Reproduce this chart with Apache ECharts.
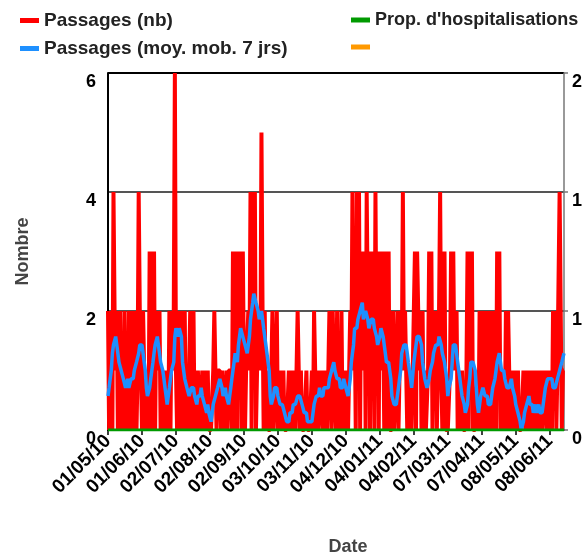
<!DOCTYPE html>
<html>
<head>
<meta charset="utf-8">
<script src="https://cdn.jsdelivr.net/npm/echarts/dist/echarts.min.js"></script>
<style>html,body{margin:0;padding:0;background:#fff;}#chart{width:584px;height:556px;}</style>
</head>
<body>
<div id="chart"></div>
<script>
// Series names
const S_RED = 'Passages (nb)';
const S_BLUE = 'Passages (moy. mob. 7 jrs)';
const S_GREEN = "Prop. d'hospitalisations";
const S_ORANGE = ' ';

// First day of the daily series (01/05/10)
const startDate = [2010, 5, 1];

// Tick labels shown on the date axis
const tickLabels = ['01/05/10','01/06/10','02/07/10','02/08/10','02/09/10','03/10/10','03/11/10',
  '04/12/10','04/01/11','04/02/11','07/03/11','07/04/11','08/05/11','08/06/11'];

// Daily emergency visits (count)
const passages = [
  2,0,2,1,0,4,2,1,2,0,1,
  2,0,1,0,2,0,1,
  0,2,0,1,2,0,1,
  2,0,1,4,2,1,0,
  2,1,0,0,1,0,
  3,0,3,0,3,0,2,
  2,1,2,0,1,0,1,
  0,0,1,0,
  2,0,2,1,2,
  6,
  1,0,2,1,0,2,
  1,0,2,0,1,0,0,2,0,1,2,
  0,1,0,1,1,0,0,1,0,1,0,0,1,0,0,0,0,1,
  2,1,0,1,1,
  1,0,1,1,0,0,1,0,1,1,
  1,0,3,0,3,1,0,3,2,3,0,3,1,0,1,
  1,2,1,
  4,0,4,2,4,0,1,
  1,2,1,5,2,0,
  2,0,1,0,0,0,1,
  2,0,0,1,2,0,0,
  1,0,0,1,0,0,0,0,1,0,1,0,0,1,0,1,
  2,
  1,0,1,0,0,0,0,1,0,0,0,0,1,0,
  2,
  1,0,1,0,0,1,1,0,1,0,1,0,1,
  2,1,0,2,1,
  1,0,2,0,1,0,2,
  0,1,0,1,1,0,0,
  2,1,
  4,1,2,0,4,1,4,0,3,
  2,1,3,0,4,2,3,0,3,1,3,0,
  4,1,3,
  0,3,1,3,2,0,3,1,0,3,0,
  0,0,2,0,0,1,
  2,0,1,2,1,
  4,1,2,
  1,0,1,0,1,0,0,
  2,3,0,3,2,
  1,2,0,2,0,1,0,
  0,1,3,2,3,0,
  2,1,2,0,1,2,
  4,
  1,0,2,3,0,0,0,
  0,1,
  3,2,3,1,
  1,2,0,1,0,0,1,0,0,0,1,
  3,0,3,1,3,0,0,
  0,0,1,0,
  2,0,2,1,
  0,2,1,0,2,0,
  1,2,0,2,1,0,
  3,1,3,0,
  1,0,1,0,
  2,0,2,
  1,0,1,1,0,1,0,0,1,0,
  0,0,0,1,
  1,0,1,1,0,1,0,1,0,0,1,0,0,1,0,1,0,0,1,1,0,1,1,0,1,0,
  2,1,2,0,1,
  1,4,4,0,1,1
];

// 7-day moving average
const passagesMM7 = [
  0.57,0.71,0.86,1.0,1.29,1.43,1.43,1.57,1.43,1.29,1.14,
  1.14,1.0,1.0,0.86,0.86,0.71,0.71,0.86,0.71,0.71,
  0.86,0.86,0.86,1.0,1.0,1.14,1.14,1.29,1.43,1.43,
  1.43,1.29,1.14,1.0,0.71,0.57,0.57,0.71,0.86,1.0,
  1.14,1.29,1.43,1.43,1.57,1.43,1.29,1.14,1.14,1.0,
  0.86,0.71,0.57,0.43,0.57,0.71,0.86,1.0,1.0,1.14,
  1.57,1.71,1.71,1.57,1.71,1.71,1.57,1.14,1.0,0.86,
  0.86,0.71,0.71,0.57,0.57,0.71,0.71,0.71,0.57,0.57,
  0.43,0.57,0.57,0.57,0.71,0.57,0.57,0.43,0.43,0.29,
  0.43,0.29,0.29,0.14,0.29,0.43,0.43,0.57,0.57,0.71,
  0.71,0.86,0.86,0.71,0.57,0.57,0.71,0.57,0.57,0.43,
  0.57,0.71,0.86,1.0,1.14,1.29,1.29,1.14,1.43,1.57,
  1.71,1.71,1.57,1.57,1.43,1.43,1.29,1.43,1.57,1.86,
  2.0,2.14,2.29,2.29,2.14,2.14,2.0,1.86,1.86,2.0,
  1.86,1.71,1.57,1.43,1.29,1.14,1.0,0.57,0.43,0.43,
  0.57,0.71,0.71,0.71,0.57,0.57,0.43,0.43,0.43,0.43,
  0.29,0.29,0.14,0.14,0.14,0.29,0.29,0.29,0.43,0.43,
  0.43,0.43,0.57,0.57,0.57,0.57,0.43,0.43,0.29,0.29,
  0.29,0.14,0.14,0.14,0.14,0.14,0.14,0.43,0.43,0.57,
  0.57,0.57,0.71,0.57,0.57,0.57,0.71,0.71,0.71,0.71,
  0.71,0.86,0.86,1.0,1.0,1.14,1.0,1.0,0.86,0.86,
  0.86,0.71,0.71,0.71,0.86,0.86,0.71,0.71,0.57,0.71,
  0.86,1.14,1.29,1.43,1.71,1.71,1.71,1.86,1.86,2.0,
  2.0,2.14,1.86,1.86,2.0,2.0,1.86,1.71,1.71,1.86,
  1.86,1.86,1.71,1.71,1.57,1.43,1.43,1.57,1.71,1.71,
  1.57,1.43,1.29,1.14,1.14,1.14,1.0,0.86,0.57,0.57,
  0.43,0.43,0.43,0.57,0.71,0.86,1.0,1.29,1.29,1.43,
  1.43,1.43,1.29,1.14,1.0,0.86,0.71,0.71,1.14,1.29,
  1.43,1.57,1.57,1.57,1.57,1.43,1.14,1.0,0.86,0.86,
  0.71,0.71,0.86,1.0,1.0,1.14,1.29,1.29,1.43,1.43,
  1.43,1.57,1.57,1.43,1.29,1.29,1.14,1.0,0.86,0.57,
  0.71,0.71,0.86,1.14,1.43,1.43,1.43,1.29,1.14,1.0,
  0.86,0.71,0.57,0.57,0.43,0.29,0.29,0.43,0.71,0.86,
  1.14,1.14,1.14,1.14,1.0,0.71,0.43,0.29,0.43,0.57,
  0.57,0.71,0.71,0.57,0.57,0.57,0.43,0.43,0.43,0.57,
  0.71,0.71,0.86,1.0,1.14,1.14,1.29,1.29,1.0,1.0,
  1.0,0.86,0.86,0.71,0.71,0.71,0.71,0.86,0.71,0.71,
  0.57,0.43,0.43,0.29,0.29,0.14,0,0,0.14,0.29,
  0.29,0.43,0.43,0.57,0.43,0.43,0.43,0.29,0.29,0.43,
  0.29,0.29,0.43,0.29,0.29,0.29,0.43,0.57,0.71,0.71,
  0.86,0.86,0.86,0.86,0.86,0.71,0.71,0.71,0.71,0.86,
  0.86,1.0,1.0,1.14,1.14,1.29
];

// Proportion of hospitalisations (right axis)
const propHosp = [
  0,0,0,0,0,0,0,0,0,0, 0,0,0,0,0,0,0,0,0,0, 0,0,0,0,0,0,0,0,0,0, 0,0,0,0,0,0,0,0,0,0, 0,0,0,0,0,0,0,0,0,0,
  0,0,0,0,0,0,0,0,0,0, 0,0,0,0,0,0,0,0,0,0, 0,0,0,0,0,0,0,0,0,0, 0,0,0,0,0,0,0,0,0,0, 0,0,0,0,0,0,0,0,0,0,
  0,0,0,0,0,0,0,0,0,0, 0,0,0,0,0,0,0,0,0,0, 0,0,0,0,0,0,0,0,0,0, 0,0,0,0,0,0,0,0,0,0, 0,0,0,0,0,0,0,0,0,0,
  0,0,0,0,0,0,0,0,0,0, 0,0,0,0,0,0,0,0,0,0, 0,0,0,0,0,0,0,0,0,0, 0,0,0,0,0,0,0,0,0,0, 0,0,0,0,0,0,0,0,0,0,
  0,0,0,0,0,0,0,0,0,0, 0,0,0,0,0,0,0,0,0,0, 0,0,0,0,0,0,0,0,0,0, 0,0,0,0,0,0,0,0,0,0, 0,0,0,0,0,0,0,0,0,0,
  0,0,0,0,0,0,0,0,0,0, 0,0,0,0,0,0,0,0,0,0, 0,0,0,0,0,0,0,0,0,0, 0,0,0,0,0,0,0,0,0,0, 0,0,0,0,0,0,0,0,0,0,
  0,0,0,0,0,0,0,0,0,0, 0,0,0,0,0,0,0,0,0,0, 0,0,0,0,0,0,0,0,0,0, 0,0,0,0,0,0,0,0,0,0, 0,0,0,0,0,0,0,0,0,0,
  0,0,0,0,0,0,0,0,0,0, 0,0,0,0,0,0,0,0,0,0, 0,0,0,0,0,0,0,0,0,0, 0,0,0,0,0,0,0,0,0,0, 0,0,0,0,0,0,0,0,0,0,
  0,0,0,0,0,0,0,0,0,0, 0,0,0,0,0,0,0
];

// Daily date categories dd/mm/yy
function pad(n){ return (n < 10 ? '0' : '') + n; }
const t0 = Date.UTC(startDate[0], startDate[1] - 1, startDate[2]);
const categories = passages.map(function(_, i){
  const d = new Date(t0 + i * 86400000);
  return pad(d.getUTCDate()) + '/' + pad(d.getUTCMonth() + 1) + '/' + pad(d.getUTCFullYear() % 100);
});
const showTick = function(idx, val){ return tickLabels.indexOf(val !== undefined ? val : categories[idx]) >= 0; };

const FONT = 'Liberation Sans, Arial, sans-serif';
const chart = echarts.init(document.getElementById('chart'), null, {renderer: 'canvas'});
chart.setOption({
  animation: false,
  backgroundColor: '#ffffff',
  legend: [
    {left: 15, top: 6, orient: 'vertical', icon: 'rect', itemWidth: 19, itemHeight: 5, itemGap: 9,
     selectedMode: false, textStyle: {fontFamily: FONT, fontWeight: 'bold', fontSize: 19, color: '#222'},
     data: [S_RED, S_BLUE]},
    {left: 346, top: 6, orient: 'vertical', icon: 'rect', itemWidth: 19, itemHeight: 5, itemGap: 9,
     selectedMode: false, textStyle: {fontFamily: FONT, fontWeight: 'bold', fontSize: 18, color: '#222'},
     data: [S_GREEN, S_ORANGE]}
  ],
  grid: {left: 108, right: 20, top: 73, bottom: 126, outerBoundsMode: 'none'},
  xAxis: {
    type: 'category', data: categories, boundaryGap: false,
    name: 'Date', nameLocation: 'middle', nameGap: 108,
    nameTextStyle: {fontFamily: FONT, fontWeight: 'bold', fontSize: 18, color: '#444', padding: [0, 0, 0, 24]},
    axisLine: {lineStyle: {color: '#000', width: 2}},
    axisTick: {interval: showTick, length: 5, lineStyle: {color: '#000', width: 1.5}},
    axisLabel: {interval: showTick, rotate: 45, margin: 8, fontFamily: FONT, fontWeight: 'bold', fontSize: 19, color: '#000'},
    splitLine: {show: false}
  },
  yAxis: [
    {type: 'value', min: 0, max: 6, interval: 2, position: 'left',
     name: 'Nombre', nameLocation: 'middle', nameGap: 76,
     nameTextStyle: {fontFamily: FONT, fontWeight: 'bold', fontSize: 18, color: '#444'},
     axisLine: {show: true, lineStyle: {color: '#000', width: 2}},
     axisTick: {show: false},
     axisLabel: {margin: 12, verticalAlign: 'top', fontFamily: FONT, fontWeight: 'bold', fontSize: 18, color: '#000'},
     splitLine: {show: true, lineStyle: {color: ['#000', '#555', '#555', '#000'], width: 2}}},
    {type: 'value', min: 0, max: 2, interval: 2 / 3, position: 'right',
     axisLine: {show: true, lineStyle: {color: '#777', width: 1.5}},
     axisTick: {show: true, length: 4, lineStyle: {color: '#777', width: 1.5}},
     axisLabel: {margin: 8, verticalAlign: 'top', fontFamily: FONT, fontWeight: 'bold', fontSize: 18, color: '#000',
       formatter: function(v){ return String(Math.round(v)); }},
     splitLine: {show: false}}
  ],
  series: [
    {name: S_RED, type: 'line', yAxisIndex: 0, data: passages, symbol: 'none', showSymbol: false,
     color: '#ff0000', lineStyle: {color: '#ff0000', width: 4}},
    {name: S_BLUE, type: 'line', yAxisIndex: 0, data: passagesMM7, symbol: 'none', showSymbol: false,
     color: '#1e90ff', lineStyle: {color: '#1e90ff', width: 3.5}},
    {name: S_GREEN, type: 'line', yAxisIndex: 1, data: propHosp, symbol: 'none', showSymbol: false,
     color: '#009a00', lineStyle: {color: '#009a00', width: 3}},
    {name: S_ORANGE, type: 'line', yAxisIndex: 1, data: [], symbol: 'none', showSymbol: false,
     color: '#ff9900', lineStyle: {color: '#ff9900', width: 3}}
  ]
});
</script>
</body>
</html>
